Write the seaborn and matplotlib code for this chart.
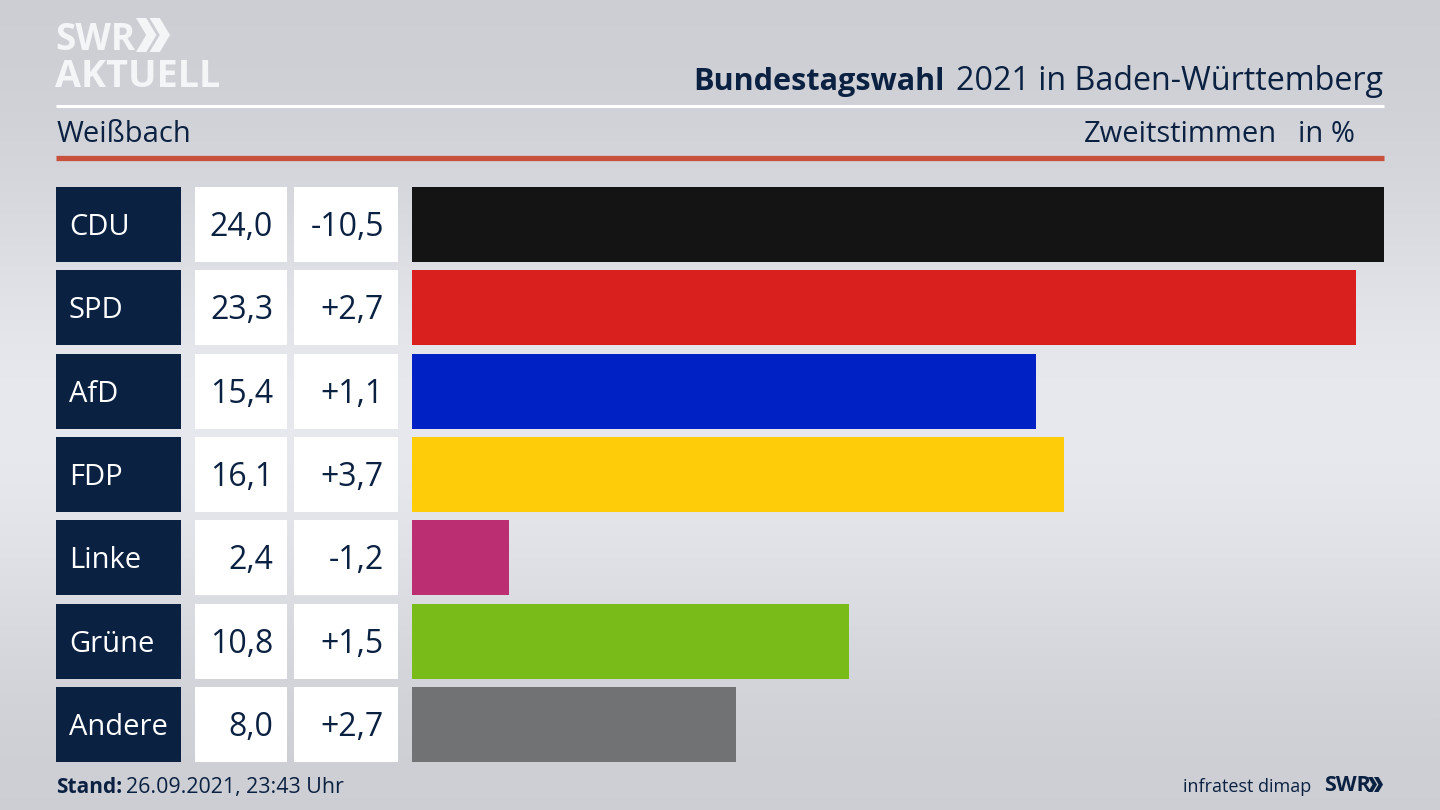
import matplotlib
matplotlib.use("Agg")
import matplotlib.pyplot as plt
from matplotlib.patches import Polygon
import numpy as np
import pandas as pd
import seaborn as sns

parties = ["CDU", "SPD", "AfD", "FDP", "Linke", "Grüne", "Andere"]
shares = [24.0, 23.3, 15.4, 16.1, 2.4, 10.8, 8.0]
changes = [-10.5, 2.7, 1.1, 3.7, -1.2, 1.5, 2.7]
bar_colors = ["#141414", "#d9201f", "#0022c4", "#ffcc0a", "#bb2e72", "#79bc1a", "#717274"]

title_bold = "Bundestagswahl"
title_rest = "2021 in Baden-Württemberg"
place = "Weißbach"
vote_type = "Zweitstimmen"
unit = "in %"
stand_label = "Stand:"
stand_value = "26.09.2021, 23:43 Uhr"
source = "infratest dimap"

NAVY = "#0b2142"
W, H = 1440, 810

sns.set_theme(style="white")
plt.rcParams["font.family"] = ["Open Sans", "DejaVu Sans"]

df = pd.DataFrame({"party": parties, "share": shares, "change": changes})
fig = plt.figure(figsize=(W / 100, H / 100), dpi=100)


def px_axes(x0, y0, x1, y1):
    # axes placed by pixel box of the 1440x810 canvas
    ax = fig.add_axes([x0 / W, 1 - y1 / H, (x1 - x0) / W, (y1 - y0) / H])
    ax.patch.set_alpha(0)
    return ax


def german(value, signed=False):
    text = f"{value:+.1f}" if signed else f"{value:.1f}"
    return text.replace(".", ",")


def draw_chevrons(ax, x, y, h, color):
    # two ">" shapes of the SWR logo
    w = h * 0.6
    t = h * 0.3
    for off in (0, h * 0.4):
        ax.add_patch(Polygon([(x + off, y), (x + off + t, y), (x + off + w, y + h / 2),
                              (x + off + t, y + h), (x + off, y + h), (x + off + w - t, y + h / 2)],
                             closed=True, color=color, lw=0))


# background gradient, lighter around the middle
bg = px_axes(0, 0, W, H)
shade = np.array([205, 212, 224, 234, 228, 215, 205], dtype=float).reshape(-1, 1) / 255
bg.imshow(np.dstack([shade, shade + 0.006, shade + 0.026]).clip(0, 1), aspect="auto",
          interpolation="bicubic", extent=(0, 1, 0, 1))
bg.axis("off")

# bars
ax = px_axes(412, 187, 1384, 762)
sns.barplot(data=df, y="party", x="share", hue="party", palette=bar_colors, width=0.9,
            saturation=1, legend=False, dodge=False, linewidth=0, ax=ax)
ax.set_xlim(0, max(shares))
ax.set_ylim(6.45, -0.45)
ax.axis("off")

# table columns left of the bars, one axes per column
columns = [
    (56, 181, NAVY, parties, "white", 13 / 125, "left", 21),
    (195, 287, "white", [german(v) for v in shares], NAVY, 78 / 92, "right", 23),
    (294, 398, "white", [german(v, True) for v in changes], NAVY, 90 / 104, "right", 23),
]
for x0, x1, cell_color, labels, text_color, text_x, align, size in columns:
    cax = px_axes(x0, 187, x1, 762)
    sns.barplot(y=parties, x=[1] * len(parties), color=cell_color, width=0.9, saturation=1,
                linewidth=0, ax=cax)
    cax.set_xlim(0, 1)
    cax.set_ylim(6.45, -0.45)
    cax.axis("off")
    for i, label in enumerate(labels):
        cax.text(text_x, i + 0.035, label, color=text_color, fontsize=size, ha=align, va="center")

# header, rules and footer in pixel coordinates
top = px_axes(0, 0, W, H)
top.set_xlim(0, W)
top.set_ylim(H, 0)
top.axis("off")

top.plot([56, 1384], [105.5, 105.5], color="white", lw=2.2, solid_capstyle="butt")
top.plot([56, 1384], [157.5, 157.5], color="#c9503c", lw=3.8, solid_capstyle="butt")

top.text(55, 50, "SWR", color="#f4f5f7", fontsize=26.5, fontweight="bold", va="baseline")
draw_chevrons(top, 136, 18, 34, "#f4f5f7")
top.text(55, 87, "AKTUELL", color="#f4f5f7", fontsize=27.2, fontweight="bold", va="baseline")

top.text(945, 90, title_bold, color=NAVY, fontsize=22.1, fontweight="bold", ha="right", va="baseline")
top.text(1383, 90, title_rest, color=NAVY, fontsize=23.2, ha="right", va="baseline")

top.text(57, 142, place, color=NAVY, fontsize=21, va="baseline")
top.text(1277, 142, vote_type, color=NAVY, fontsize=21, ha="right", va="baseline")
top.text(1355, 142, unit, color=NAVY, fontsize=21, ha="right", va="baseline")

top.text(56, 793, stand_label, color=NAVY, fontsize=15, fontweight="bold", va="baseline")
top.text(126, 793, stand_value, color=NAVY, fontsize=15.4, va="baseline")
top.text(1311, 792, source, color=NAVY, fontsize=13, ha="right", va="baseline")
top.text(1324, 791, "SWR", color=NAVY, fontsize=15.5, fontweight="bold", va="baseline")
draw_chevrons(top, 1368, 777, 15, NAVY)

fig.savefig("out.png", dpi=100)
